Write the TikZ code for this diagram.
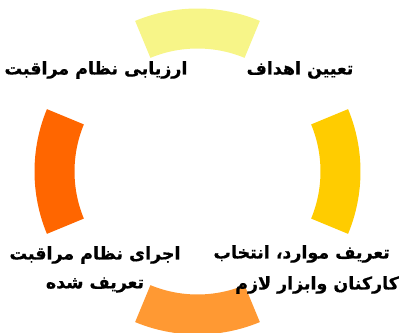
\documentclass[tikz,border=0pt]{standalone}
\usepackage{fontspec}
\TeXXeTstate=1
\newfontfamily\arabicfont[Script=Arabic, BoldFeatures={FakeBold=0.6}]{DejaVu Sans}
\definecolor{segA}{RGB}{247,245,136}
\definecolor{segB}{RGB}{255,204,0}
\definecolor{segC}{RGB}{255,153,51}
\definecolor{segD}{RGB}{255,102,0}
\tikzset{
  lbl/.style={font=\arabicfont\bfseries\fontsize{17.5}{30}\selectfont, inner sep=0pt, text=black},
}
\newcommand{\seg}[2]{%
  \fill[#2, shift={(197.5,161.5)}] (#1-22.5:163bp) arc[start angle=#1-22.5, end angle=#1+22.5, radius=163bp]
    -- (#1+22.5:123bp) arc[start angle=#1+22.5, end angle=#1-22.5, radius=123bp] -- cycle;}
\begin{document}
\begin{tikzpicture}[x=1bp,y=1bp]
\useasboundingbox (0,0) rectangle (401,333);
\seg{90}{segA}
\seg{0}{segB}
\seg{270}{segC}
\seg{180}{segD}
\node[lbl] (t1) at (300,263) {\beginR تعیین اهداف\endR};
\node[lbl] (t2) at (96,263) {\beginR ارزیابی نظام مراقبت\endR};
\node[lbl] (t3a) at (95,78) {\beginR اجرای نظام مراقبت\endR};
\node[lbl] (t3b) at (95,48) {\beginR تعریف شده\endR};
\node[lbl, anchor=east] (t4a) at (390,79) {\beginR تعریف موارد، انتخاب\endR};
\node[lbl, anchor=east] (t4b) at (399,48) {\beginR کارکنان وابزار لازم\endR};
\end{tikzpicture}
\end{document}
